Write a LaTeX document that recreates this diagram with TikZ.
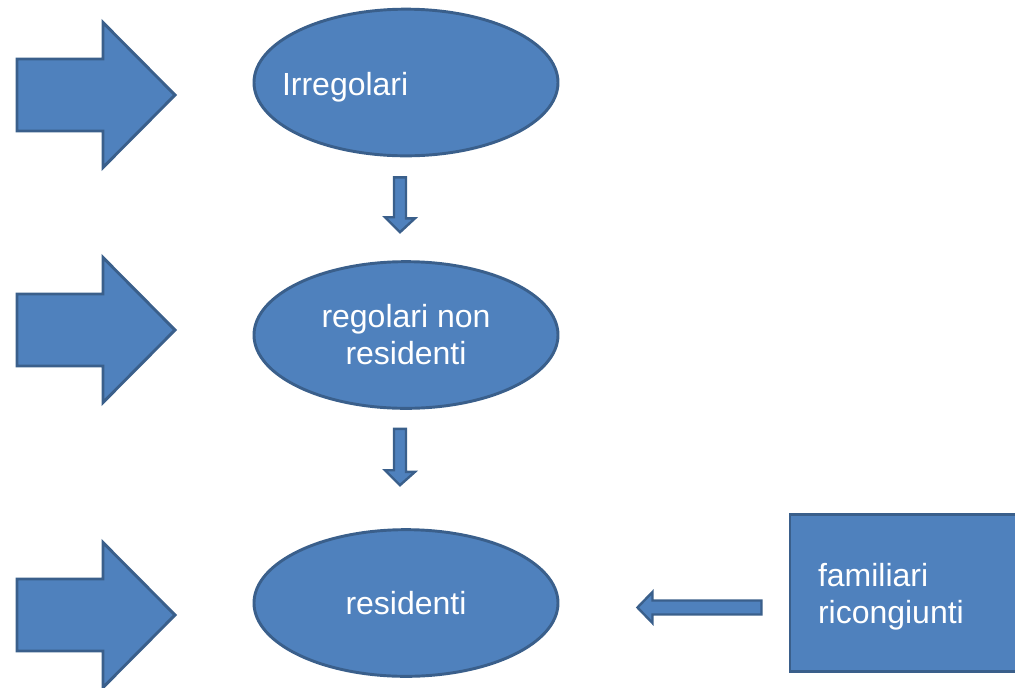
\documentclass[tikz,border=0pt]{standalone}
\usepackage{fontspec}
\setmainfont{Liberation Sans}
\usetikzlibrary{shapes.geometric,calc}
\definecolor{boxfill}{HTML}{4F81BD}
\definecolor{boxline}{HTML}{3A5F8B}
\tikzset{
  blk/.style={fill=boxfill, draw=boxline, line width=2.2pt, line join=miter},
  oval/.style={ellipse, fill=boxfill, draw=boxline, line width=2.2pt, inner sep=0pt,
    minimum width=228pt, minimum height=110pt, text=white, align=center,
    font=\fontsize{24pt}{27.75pt}\selectfont},
  famrect/.style={rectangle, fill=boxfill, draw=boxline, line width=2.2pt,
    minimum width=187.5pt, minimum height=118pt, inner xsep=21pt, text width=145.5pt,
    align=left, text=white, font=\fontsize{24pt}{27.75pt}\selectfont}
}
\begin{document}
\begin{tikzpicture}[x=0.75pt, y=-0.75pt]
\useasboundingbox (0,0) rectangle (1015,687);
\clip (0,0) rectangle (1015,687);

% ovals
\node[oval] (e1) at (406,82.5) {\rule{0pt}{24.5pt}\makebox[0pt][l]{\hspace{-93pt}Irregolari}};
\node[oval] (e2) at (406,335) {regolari non\\residenti};
\node[oval] (e3) at (406,603) {residenti};

% rectangle (cut off at the right edge)
\node[famrect] (fam) at (915,593) {\rule{0pt}{23.5pt}familiari\\ricongiunti};

% big arrows on the left
\foreach \cy in {95,330,615}{
  \draw[blk] (17,\cy-36) -- (103,\cy-36) -- (103,\cy-72.5) -- (175,\cy)
    -- (103,\cy+72.5) -- (103,\cy+36) -- (17,\cy+36) -- cycle;
}

% small connectors between ovals
\coordinate (d1s) at ($(e1.south)+(-6,20)$);
\coordinate (d1e) at ($(e2.north)+(-6,-28)$);
\draw[blk, line width=1.8pt] (d1s) ++(-6,0) -- ++(12,0) -- ++(0,41) -- ++(9,0) -- (d1e)
  -- ++(-15,-15) -- ++(9,0) -- cycle;

\coordinate (d2s) at ($(e2.south)+(-6,19)$);
\coordinate (d2e) at ($(e3.north)+(-6,-43)$);
\draw[blk, line width=1.8pt] (d2s) ++(-6,0) -- ++(12,0) -- ++(0,43) -- ++(9,0) -- (d2e)
  -- ++(-15,-15) -- ++(9,0) -- cycle;

% connector from rectangle to residenti
\coordinate (ls) at ($(fam.west |- e3)+(-27,4.5)$);
\coordinate (le) at ($(e3.east)+(78,4.5)$);
\draw[blk, line width=1.8pt] (ls) ++(0,-7) -- ($(le)+(15,-7)$) -- ++(0,-8.5) -- (le)
  -- ++(15,15.5) -- ++(0,-8.5) -- ($(ls)+(0,7)$) -- cycle;
\end{tikzpicture}
\end{document}
